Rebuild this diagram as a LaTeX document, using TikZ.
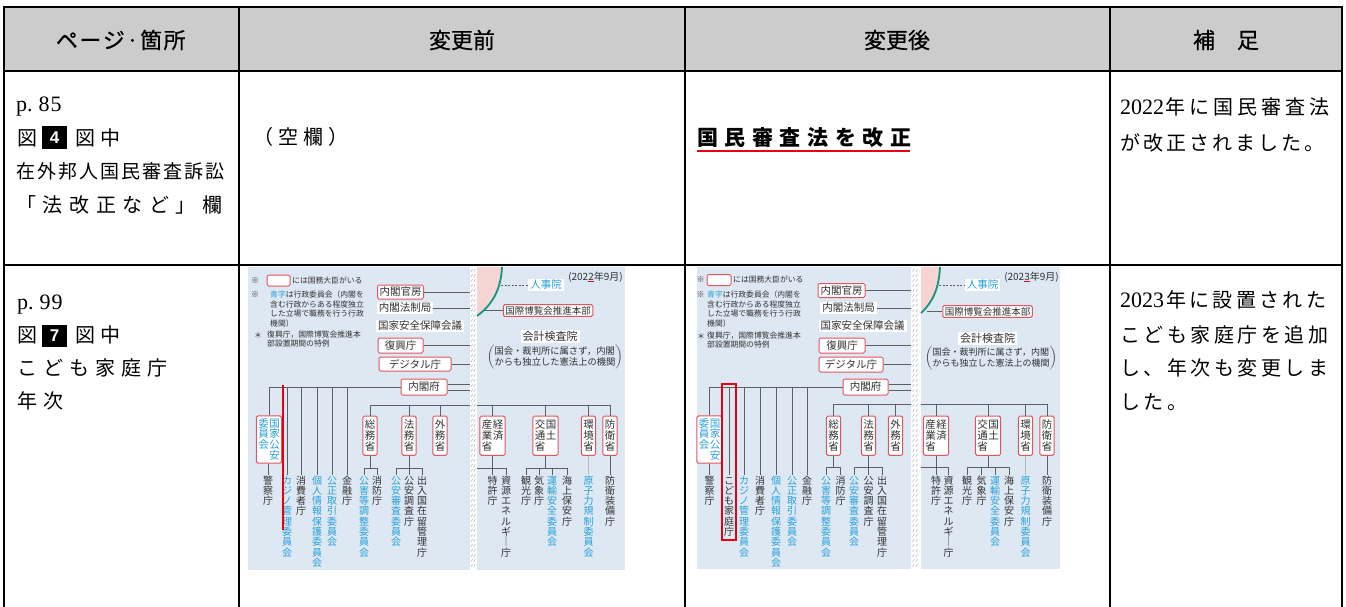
\documentclass[tikz,border=0pt]{standalone}
\usepackage{fontspec}
\setmainfont{Noto Sans CJK JP}
\newfontfamily\hdrfont[FakeBold=0.6]{Noto Sans CJK JP}
\newfontfamily\serifnum{Liberation Serif}
\newfontfamily\sansnum{Liberation Sans}
\definecolor{hdrgray}{RGB}{204,204,204}
\definecolor{chbg}{RGB}{221,232,243}
\definecolor{boxred}{RGB}{226,85,95}
\definecolor{chblue}{RGB}{38,160,218}
\definecolor{chtext}{RGB}{50,50,50}
\definecolor{lnGray}{RGB}{95,95,95}
\definecolor{pinkq}{RGB}{246,212,212}
\definecolor{tealarc}{RGB}{20,150,125}
\definecolor{markred}{RGB}{230,0,18}
\newcommand\fsz[1]{\fontsize{#1}{#1}\selectfont}
\newlength\vcgap \setlength\vcgap{0.3pt}
\def\vstackend{VSTACKEND}
\newcommand\vstack[1]{\vtop{\offinterlineskip\vstackA#1\vstackend}}
\def\vstackA#1{\ifx#1\vstackend\else\vstackchar{#1}\expandafter\vstackA\fi}
\def\vstackchar#1{\hbox to 1em{\vrule height .88em depth .12em width 0pt\hss\ifnum`#1=`ー\relax ｜\else #1\fi\hss}\kern\vcgap\relax}
\def\lsend{LSEND}
\newcommand\ls[2]{\def\lskern{#1}\lsA#2\lsend}
\def\lsA#1{\ifx#1\lsend\else#1\kern\lskern\relax\expandafter\lsA\fi}
\newcommand\rul[1]{\setbox0\hbox{#1}\rlap{\color{markred}\rule[-2pt]{\wd0}{0.9pt}}#1}
\begin{document}
\begin{tikzpicture}[x=1pt,y=-1pt,
  tbl/.style={line width=2.6pt, draw=black},
  hdr/.style={inner sep=0, font=\hdrfont\fsz{22}},
  body/.style={anchor=base west, inner sep=0, font=\fsz{20}},
  numbox/.style={fill=black, text=white, inner sep=0, minimum width=25pt, minimum height=22pt, font=\sansnum\bfseries\fsz{17}},
  chbox/.style={draw=boxred, fill=white, rounded corners=1.5pt, line width=1pt, inner xsep=2pt, inner ysep=1.5pt, text=chtext, font=\fsz{10.5}},
  vbox/.style={chbox, inner xsep=1.8pt, inner ysep=3.5pt},
  wlab/.style={fill=white, inner xsep=2pt, inner ysep=1.5pt, text=chtext, font=\fsz{10.5}},
  vt/.style={anchor=north, inner sep=0, text=chtext, font=\fsz{10}},
  vtb/.style={vt, text=chblue},
  ln/.style={draw=lnGray, line width=0.75pt},
  lnl/.style={draw=gray!55, line width=1.3pt},
  slash/.style={draw=gray!60, line width=0.45pt},
  arcst/.style={draw=tealarc, line width=1.8pt},
  legmark/.style={inner sep=0, text=chtext, font=\fsz{8}},
  leg/.style={anchor=west, inner sep=0, text=chtext, font=\fsz{7.8}},
  legml/.style={anchor=north west, align=left, inner sep=0, text=chtext, font=\fontsize{7.8}{9.7}\selectfont},
  legbox/.style={draw=boxred, fill=white, rounded corners=1.5pt, line width=1pt, minimum width=23pt, minimum height=11pt, inner sep=0},
  datest/.style={inner sep=0, text=chtext, font=\fsz{10}},
  notest/.style={inner sep=0, text=chtext},
  markbox/.style={draw=markred, line width=1.5pt},
  ulred/.style={draw=markred, line width=2pt}
]
\useasboundingbox (0,0) rectangle (1346,607);
\fill[white] (0,0) rectangle (1346,607);
\fill[hdrgray] (4,7) rectangle (1342,71);

% ---------- header ----------
\node[hdr] (hPage) at (121.5,40) {\ls{1.5pt}{ページ·箇所}};
\node[hdr] (hBefore) at (462,40) {変更前};
\node[hdr] (hAfter) at (897,40) {変更後};
\node[hdr] (hNote) at (1226,40) {補\kern22pt足};

% ---------- row 1 ----------
\node[body] (r1p) at (16,112) {\serifnum\fsz{22}p.\kern6pt 8\kern1pt 5};
\node[body] (r1z) at (17,145.4) {図};
\node[numbox] (r1n) at (54.5,137.5) {4};
\node[body] (r1zc) at (75,145.4) {図\kern5pt 中};
\node[body, font=\fsz{19}] (r1l3) at (16,178.2) {\ls{2pt}{在外邦人国民審査訴訟}};
\node[body] (r1l4) at (16,212.6) {\ls{6.6pt}{「法改正など」欄}};
\node[body] (r1before) at (253,144.9) {\ls{5pt}{（空欄）}};
\node[body, font=\bfseries\fsz{21}] (r1after) at (697,146) {\ls{6.6pt}{国民審査法を改正}};
\coordinate (ulA) at (697,151);
\coordinate (ulB) at (910,151);
\draw[ulred] (ulA) -- (ulB);
\node[body] (r1n1) at (1120,114.4) {{\serifnum\fsz{22}2022}\kern1pt\ls{4pt}{年に国民審査法}};
\node[body] (r1n2) at (1120,150.4) {\ls{3pt}{が改正されました。}};

% ---------- row 2 ----------
\node[body] (r2p) at (17,309) {\serifnum\fsz{22}p.\kern6pt 9\kern1pt 9};
\node[body] (r2z) at (17,342.4) {図};
\node[numbox] (r2n) at (54.5,335.5) {7};
\node[body] (r2zc) at (75,342.4) {図\kern5pt 中};
\node[body] (r2l3) at (17,375.9) {\ls{6pt}{こども家庭庁}};
\node[body] (r2l4) at (17,408.9) {\ls{6pt}{年次}};
\node[body] (r2n1) at (1120,307.4) {{\serifnum\fsz{22}2023}\kern2pt\ls{3.3pt}{年に設置された}};
\node[body] (r2n2) at (1120,342.4) {\ls{3.5pt}{こども家庭庁を追加}};
\node[body] (r2n3) at (1120,375.9) {\ls{3.5pt}{し、年次も変更しま}};
\node[body] (r2n4) at (1120,409.4) {\ls{3.5pt}{した。}};

% ================= BEFORE chart =================
\fill[chbg] (248,267) rectangle (470,570);
\fill[chbg] (477,267) rectangle (625,570);
\fill[white] (470,267) rectangle (477,570);
\foreach \yy in {269,274,...,566} {
  \draw[slash] (470.8,\yy+3) -- (472.6,\yy);
  \draw[slash] (473.6,\yy+3) -- (475.4,\yy);
}
\fill[pinkq] (477,267) -- (502,267) .. controls (501,290) and (492,305) .. (477,316) -- cycle;
\draw[arcst] (502,267) .. controls (501,290) and (492,305) .. (477,316);
\coordinate (bArcA) at (501,285);
\coordinate (bArcB) at (485,310.5);
\coordinate (bStripL) at (470,300);
\coordinate (bBusM) at (470,405);
\coordinate (bBusR) at (477,405);
\coordinate (bSub) at (477,468);

% legend
\node[legmark] (bMk1) at (255,280.5) {※};
\node[legbox] (bLegBox) at (278.5,280.5) {};
\node[leg] (bLeg1) at (292,280.5) {には国務大臣がいる};
\node[legmark] (bMk2) at (255,295) {※};
\node[legml] (bLeg2) at (270,290.5) {{\color{chblue}青字}は行政委員会（内閣を\\含む行政からある程度独立\\した立場で職務を行う行政\\機関）};
\node[legmark] (bMk3) at (258,335) {＊};
\node[legml] (bLeg3) at (267,330.5) {復興庁，国際博覧会推進本\\部設置期間の特例};

% cabinet column
\node[chbox, minimum width=45pt, minimum height=14pt] (bKanbo) at (400.5,292) {内閣官房};
\node[wlab] (bHousei) at (405,308) {内閣法制局};
\node[wlab] (bNSC) at (420,326) {国家安全保障会議};
\node[chbox, minimum width=45pt, minimum height=15pt] (bFukko) at (400.5,345.5) {復興庁};
\node[chbox, minimum width=72pt, minimum height=14pt] (bDigital) at (415,364) {デジタル庁};
\node[chbox, minimum width=46pt, minimum height=16pt] (bNaikakufu) at (424,387) {内閣府};
\draw[ln] (bKanbo.east) -- (bKanbo.east -| bStripL);
\draw[ln] (bHousei.east) -- (bHousei.east -| bStripL);
\draw[ln] (bFukko.east) -- (bFukko.east -| bStripL);
\draw[ln] (bDigital.east) -- (bDigital.east -| bStripL);
\draw[ln] ([yshift=3pt]bNaikakufu.east) -- ([yshift=3pt]bNaikakufu.east -| bStripL);
\draw[ln] ([yshift=-3pt]bNaikakufu.east) -- ([yshift=-3pt]bNaikakufu.east -| bStripL);

% cabinet office children
\node[vbox, inner ysep=2pt, text=chblue] (bKokka) at (269,439.5) {\hbox{\vstack{委員会}\kern0.5pt\vstack{国家公安}}};
\node[vt] (bKeisatsu) at (268,475) {\vstack{警察庁}};
\node[vtb] (bKajino) at (287,475) {\vstack{カジノ管理委員会}};
\node[vt] (bShohi) at (301,475) {\vstack{消費者庁}};
\node[vtb] (bKojin) at (317,475) {\vstack{個人情報保護委員会}};
\node[vtb] (bKosei) at (332,475) {\vstack{公正取引委員会}};
\node[vt] (bKinyu) at (347,475) {\vstack{金融庁}};
\draw[ln] (bNaikakufu.west) -- (bNaikakufu.west -| bKokka.north) -- (bKokka.north);
\foreach \n in {bKajino,bShohi,bKojin,bKosei,bKinyu} {
  \draw[ln] (bNaikakufu.west -| \n.north) -- (\n.north);
}
\draw[ln] (bKokka.south -| bKeisatsu.north) -- (bKeisatsu.north);
\draw[markred, line width=1.3pt] (283,385) -- (283,530);

% ministries (left part)
\node[vbox] (bSomu) at (370,435.7) {\vstack{総務省}};
\node[vbox] (bHomu) at (409,435.7) {\vstack{法務省}};
\node[vbox] (bGaimu) at (440,435.7) {\vstack{外務省}};
\node[vtb] (bKogai) at (364,475) {\vstack{公害等調整委員会}};
\node[vt] (bShobo) at (377,475) {\vstack{消防庁}};
\node[vtb] (bKoanS) at (396,475) {\vstack{公安審査委員会}};
\node[vt] (bKoanC) at (409,475) {\vstack{公安調査庁}};
\node[vt] (bShutsu) at (422,475) {\vstack{出入国在留管理庁}};
\draw[ln] (bBusM) -- (bBusM -| bSomu.north) -- (bSomu.north);
\draw[ln] (bBusM -| bHomu.north) -- (bHomu.north);
\draw[ln] (bBusM -| bGaimu.north) -- (bGaimu.north);
\draw[ln] (bSomu.south) -- (bSomu.south |- bSub);
\draw[ln] (bKogai.north) -- (bKogai.north |- bSub) -- (bShobo.north |- bSub) -- (bShobo.north);
\draw[ln] (bHomu.south) -- (bKoanC.north);
\draw[ln] (bKoanS.north) -- (bKoanS.north |- bSub) -- (bShutsu.north |- bSub) -- (bShutsu.north);

% right panel
\node[wlab, text=chblue] (bJinji) at (546,285) {人事院};
\draw[ln, dashed, dash pattern=on 2pt off 1.5pt] (bArcA) -- (bJinji.west);
\node[datest] (bDate) at (595.5,277) {(202\rul{2}年9月)};
\node[chbox, font=\fsz{9.5}] (bExpo) at (548,310.5) {国際博覧会推進本部};
\draw[ln] (bArcB) -- (bExpo.west);
\node[wlab, font=\fsz{11}] (bKaikei) at (550,336.5) {会計検査院};
\node[notest] (bKaikeiNote) at (555,357.5) {$\left(\vcenter{\hbox{\fontsize{9.3}{10.5}\selectfont\color{chtext}\begin{tabular}{@{}l@{}}国会・裁判所に属さず，内閣\\からも独立した憲法上の機関\end{tabular}}}\right)$};

\node[vbox] (bKeisan) at (492.5,435.7) {\hbox{\vstack{産業省}\kern0.5pt\vstack{経済}}};
\node[vbox] (bKokudo) at (545.5,435.7) {\hbox{\vstack{交通省}\kern0.5pt\vstack{国土}}};
\node[vbox] (bKankyo) at (588.5,435.7) {\vstack{環境省}};
\node[vbox] (bBoei) at (610,435.7) {\vstack{防衛省}};
\node[vt] (bTokkyo) at (492.5,475) {\vstack{特許庁}};
\node[vt] (bShigen) at (506,475) {\vstack{資源エネルギー庁}};
\node[vt] (bKanko) at (526,475) {\vstack{観光庁}};
\node[vt] (bKisho) at (539,475) {\vstack{気象庁}};
\node[vtb] (bUnyu) at (552,475) {\vstack{運輸安全委員会}};
\node[vt] (bKaijo) at (567,475) {\vstack{海上保安庁}};
\node[vtb] (bGenshi) at (588.5,475) {\vstack{原子力規制委員会}};
\node[vt] (bBoeiS) at (610,475) {\vstack{防衛装備庁}};
\draw[ln] (bBusR) -- (bBusR -| bBoei.north) -- (bBoei.north);
\draw[ln] (bBusR -| bKeisan.north) -- (bKeisan.north);
\draw[ln] (bBusR -| bKokudo.north) -- (bKokudo.north);
\draw[ln] (bBusR -| bKankyo.north) -- (bKankyo.north);
\draw[ln] (bKeisan.south) -- (bTokkyo.north);
\draw[ln] (bSub) -- (bShigen.north |- bSub) -- (bShigen.north);
\draw[ln] (bKokudo.south) -- (bKokudo.south |- bSub);
\draw[ln] (bKanko.north) -- (bKanko.north |- bSub) -- (bKaijo.north |- bSub) -- (bKaijo.north);
\draw[ln] (bKisho.north |- bSub) -- (bKisho.north);
\draw[ln] (bUnyu.north |- bSub) -- (bUnyu.north);
\draw[lnl] (bKankyo.south) -- (bGenshi.north);
\draw[ln] (bBoei.south) -- (bBoeiS.north);

% ================= AFTER chart =================
\fill[chbg] (697,267) rectangle (911,569);
\fill[chbg] (921,267) rectangle (1060,569);
\fill[white] (911,267) rectangle (921,569);
\foreach \yy in {269,274,...,565} {
  \draw[slash] (912.5,\yy+3) -- (914.3,\yy);
  \draw[slash] (915.8,\yy+3) -- (917.6,\yy);
}
\fill[pinkq] (921,267) -- (940,267) .. controls (939,288) and (933,302) .. (921,313) -- cycle;
\draw[arcst] (940,267) .. controls (939,288) and (933,302) .. (921,313);
\coordinate (aArcA) at (939,285);
\coordinate (aArcB) at (927,311.5);
\coordinate (aStripL) at (911,300);
\coordinate (aBusM) at (911,404.5);
\coordinate (aBusR) at (921,404.5);
\coordinate (aSub) at (921,467);

% legend
\node[legmark] (aMk1) at (700.5,280) {※};
\node[legbox, minimum width=24pt] (aLegBox) at (719,280) {};
\node[leg] (aLeg1) at (733,280) {には国務大臣がいる};
\node[legmark] (aMk2) at (700.5,295) {※};
\node[legml] (aLeg2) at (707,290.5) {{\color{chblue}青字}は行政委員会（内閣を\\含む行政からある程度独立\\した立場で職務を行う行政\\機関）};
\node[legmark] (aMk3) at (701,336) {＊};
\node[legml] (aLeg3) at (707,331.5) {復興庁，国際博覧会推進本\\部設置期間の特例};

% cabinet column
\node[chbox, minimum width=47pt, minimum height=14pt] (aKanbo) at (841.5,290.5) {内閣官房};
\node[wlab] (aHousei) at (848.5,308) {内閣法制局};
\node[wlab] (aNSC) at (862.5,326) {国家安全保障会議};
\node[chbox, minimum width=46pt, minimum height=15pt] (aFukko) at (842,345.5) {復興庁};
\node[chbox, minimum width=64pt, minimum height=15pt] (aDigital) at (851,364.5) {デジタル庁};
\node[chbox, minimum width=45pt, minimum height=16pt] (aNaikakufu) at (865.5,387) {内閣府};
\draw[ln] (aKanbo.east) -- (aKanbo.east -| aStripL);
\draw[ln] (aHousei.east) -- (aHousei.east -| aStripL);
\draw[ln] (aFukko.east) -- (aFukko.east -| aStripL);
\draw[ln] (aDigital.east) -- (aDigital.east -| aStripL);
\draw[ln] ([yshift=3pt]aNaikakufu.east) -- ([yshift=3pt]aNaikakufu.east -| aStripL);
\draw[ln] ([yshift=-3pt]aNaikakufu.east) -- ([yshift=-3pt]aNaikakufu.east -| aStripL);

% cabinet office children
\node[vbox, inner ysep=2pt, text=chblue] (aKokka) at (709.5,439.5) {\hbox{\vstack{委員会}\kern0.5pt\vstack{国家公安}}};
\node[vt] (aKeisatsu) at (709.5,475) {\vstack{警察庁}};
\node[vt] (aKodomo) at (729,475) {\vstack{こども家庭庁}};
\node[vtb] (aKajino) at (744,475) {\vstack{カジノ管理委員会}};
\node[vt] (aShohi) at (760,475) {\vstack{消費者庁}};
\node[vtb] (aKojin) at (776,475) {\vstack{個人情報保護委員会}};
\node[vtb] (aKosei) at (792,475) {\vstack{公正取引委員会}};
\node[vt] (aKinyu) at (807,475) {\vstack{金融庁}};
\draw[ln] (aNaikakufu.west) -- (aNaikakufu.west -| aKokka.north) -- (aKokka.north);
\foreach \n in {aKodomo,aKajino,aShohi,aKojin,aKosei,aKinyu} {
  \draw[ln] (aNaikakufu.west -| \n.north) -- (\n.north);
}
\draw[ln] (aKokka.south -| aKeisatsu.north) -- (aKeisatsu.north);
\draw[markbox] (722,384) rectangle (736,540);

% ministries (left part)
\node[vbox] (aSomu) at (833.5,435.7) {\vstack{総務省}};
\node[vbox] (aHomu) at (868.5,435.7) {\vstack{法務省}};
\node[vbox] (aGaimu) at (895.5,435.7) {\vstack{外務省}};
\node[vtb] (aKogai) at (826,475) {\vstack{公害等調整委員会}};
\node[vt] (aShobo) at (840.5,475) {\vstack{消防庁}};
\node[vtb] (aKoanS) at (854,475) {\vstack{公安審査委員会}};
\node[vt] (aKoanC) at (868.5,475) {\vstack{公安調査庁}};
\node[vt] (aShutsu) at (882,475) {\vstack{出入国在留管理庁}};
\draw[ln] (aBusM) -- (aBusM -| aSomu.north) -- (aSomu.north);
\draw[ln] (aBusM -| aHomu.north) -- (aHomu.north);
\draw[ln] (aBusM -| aGaimu.north) -- (aGaimu.north);
\draw[ln] (aSomu.south) -- (aSomu.south |- aSub);
\draw[ln] (aKogai.north) -- (aKogai.north |- aSub) -- (aShobo.north |- aSub) -- (aShobo.north);
\draw[ln] (aHomu.south) -- (aKoanC.north);
\draw[ln] (aKoanS.north) -- (aKoanS.north |- aSub) -- (aShutsu.north |- aSub) -- (aShutsu.north);

% right panel
\node[wlab, text=chblue] (aJinji) at (982.5,285) {人事院};
\draw[ln, dashed, dash pattern=on 2pt off 1.5pt] (aArcA) -- (aJinji.west);
\node[datest] (aDate) at (1031.5,277) {(202\rul{3}年9月)};
\node[chbox, font=\fsz{9.5}] (aExpo) at (987.5,311.5) {国際博覧会推進本部};
\draw[ln] (aArcB) -- (aExpo.west);
\node[wlab, font=\fsz{11}] (aKaikei) at (987.5,338.5) {会計検査院};
\node[notest] (aKaikeiNote) at (991,358.5) {$\left(\vcenter{\hbox{\fontsize{9}{10}\selectfont\color{chtext}\begin{tabular}{@{}l@{}}国会・裁判所に属さず，内閣\\からも独立した憲法上の機関\end{tabular}}}\right)$};

\node[vbox] (aKeisan) at (936,435.7) {\hbox{\vstack{産業省}\kern0.5pt\vstack{経済}}};
\node[vbox] (aKokudo) at (988,435.7) {\hbox{\vstack{交通省}\kern0.5pt\vstack{国土}}};
\node[vbox] (aKankyo) at (1025.5,435.7) {\vstack{環境省}};
\node[vbox] (aBoei) at (1047,435.7) {\vstack{防衛省}};
\node[vt] (aTokkyo) at (936,475) {\vstack{特許庁}};
\node[vt] (aShigen) at (948.5,475) {\vstack{資源エネルギー庁}};
\node[vt] (aKanko) at (967,475) {\vstack{観光庁}};
\node[vt] (aKisho) at (981.5,475) {\vstack{気象庁}};
\node[vtb] (aUnyu) at (995,475) {\vstack{運輸安全委員会}};
\node[vt] (aKaijo) at (1009,475) {\vstack{海上保安庁}};
\node[vtb] (aGenshi) at (1025.5,475) {\vstack{原子力規制委員会}};
\node[vt] (aBoeiS) at (1047,475) {\vstack{防衛装備庁}};
\draw[ln] (aBusR) -- (aBusR -| aBoei.north) -- (aBoei.north);
\draw[ln] (aBusR -| aKeisan.north) -- (aKeisan.north);
\draw[ln] (aBusR -| aKokudo.north) -- (aKokudo.north);
\draw[ln] (aBusR -| aKankyo.north) -- (aKankyo.north);
\draw[ln] (aKeisan.south) -- (aTokkyo.north);
\draw[ln] (aSub) -- (aShigen.north |- aSub) -- (aShigen.north);
\draw[ln] (aKokudo.south) -- (aKokudo.south |- aSub);
\draw[ln] (aKanko.north) -- (aKanko.north |- aSub) -- (aKaijo.north |- aSub) -- (aKaijo.north);
\draw[ln] (aKisho.north |- aSub) -- (aKisho.north);
\draw[ln] (aUnyu.north |- aSub) -- (aUnyu.north);
\draw[lnl] (aKankyo.south) -- (aGenshi.north);
\draw[ln] (aBoei.south) -- (aBoeiS.north);

% ---------- table rules ----------
\draw[tbl] (4,607) -- (4,7) -- (1342,7) -- (1342,607);
\draw[tbl] (4,71) -- (1342,71);
\draw[tbl] (4,265) -- (1342,265);
\draw[tbl] (239,7) -- (239,607);
\draw[tbl] (685,7) -- (685,607);
\draw[tbl] (1110,7) -- (1110,607);
\end{tikzpicture}
\end{document}
